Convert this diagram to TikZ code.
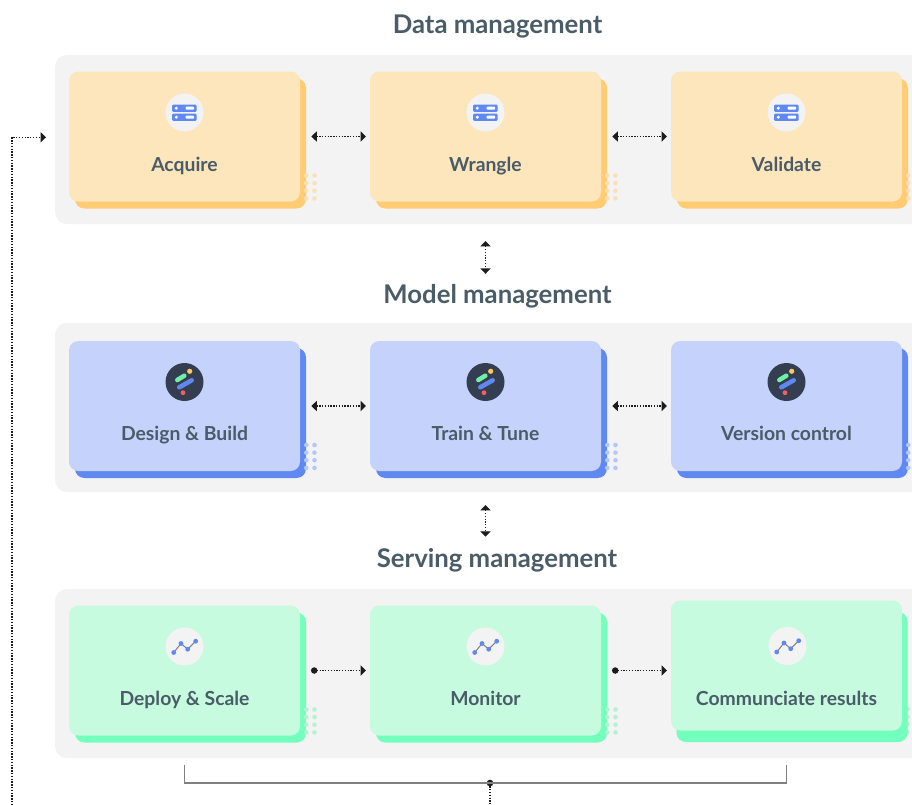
\documentclass[tikz,border=0pt]{standalone}
\usepackage{fontspec}
\setmainfont{Lato}
\usetikzlibrary{arrows.meta}
\definecolor{panelc}{HTML}{F3F3F3}
\definecolor{inkc}{HTML}{4A5C68}
\definecolor{darkc}{HTML}{1C1C1C}
\definecolor{bluec}{HTML}{5F88F1}
\definecolor{icondark}{HTML}{353D50}
\definecolor{icongreen}{HTML}{6FEFA8}
\definecolor{iconyellow}{HTML}{FFC65C}
\definecolor{iconred}{HTML}{F4605F}
\definecolor{yfront}{HTML}{FDE5BC}\definecolor{yback}{HTML}{FFCC73}\definecolor{ydot}{HTML}{FBE0B6}
\definecolor{bfront}{HTML}{C5D3FC}\definecolor{bback}{HTML}{5F88F1}\definecolor{bdot}{HTML}{B4C8F8}
\definecolor{gfront}{HTML}{C6FBDF}\definecolor{gback}{HTML}{73FFBC}\definecolor{gdot}{HTML}{B4F2D3}
\tikzset{
  x=0.75pt,y=-0.75pt,
  panelbox/.style={fill=panelc,rounded corners=9pt,minimum width=678.75pt,minimum height=126.75pt,inner sep=0pt,outer sep=0pt},
  cardbox/.style={rounded corners=7pt,minimum width=173.25pt,minimum height=97.5pt,inner sep=0pt,outer sep=0pt},
  cardlabel/.style={font=\fontsize{14.5pt}{16pt}\selectfont\bfseries,text=inkc,inner sep=0pt,anchor=base},
  titlelabel/.style={font=\fontsize{19.3pt}{22pt}\selectfont\bfseries,text=inkc,inner sep=0pt,anchor=base,text height=16pt,text depth=4pt},
  dotted link/.style={draw=darkc,line width=1.05pt,dash pattern=on 1pt off 1.1pt},
  twoway/.style={dotted link,{Triangle[length=4.1pt,width=7.6pt,fill=darkc]}-{Triangle[length=4.1pt,width=7.6pt,fill=darkc]}},
  oneway/.style={dotted link,-{Triangle[length=4.1pt,width=7.6pt,fill=darkc]}},
  dotway/.style={dotted link,{Circle[length=4.8pt,fill=darkc]}-{Triangle[length=4.1pt,width=7.6pt,fill=darkc]}},
  bracketline/.style={draw=gray,line width=0.8pt},
  hubdot/.style={circle,fill=darkc,minimum size=5pt,inner sep=0pt,outer sep=0pt},
  pics/servers/.style={code={
    \fill[panelc] (0,0) circle[radius=19];
    \foreach \yy in {-8,1}{
      \fill[bluec,rounded corners=1pt] (-12.5,\yy) rectangle (12.2,\yy+7.4);
      \fill[white] (-8.2,\yy+3.7) circle[radius=1.7];
      \fill[white,rounded corners=.6pt] (1.2,\yy+2.2) rectangle (9.5,\yy+5.2);
    }
  }},
  pics/streaks/.style={code={
    \fill[icondark] (0,0) circle[radius=19];
    \draw[line width=3.4pt,line cap=round,draw=icongreen] (-7.2,-2) -- (-.2,-6.3);
    \draw[line width=3.4pt,line cap=round,draw=bluec] (-5.2,5.3) -- (7.2,-1.7);
    \fill[iconyellow] (5.2,-10.7) circle[radius=2.6];
    \fill[iconred] (-1.5,10.7) circle[radius=2.4];
  }},
  pics/trend/.style={code={
    \fill[panelc] (0,0) circle[radius=19];
    \draw[line width=.75pt,draw=gray] (-10.8,6) -- (-3.5,-3) -- (3.2,2.7) -- (11.2,-5.3);
    \foreach \px/\py in {-10.8/6,-3.5/-3,3.2/2.7,11.2/-5.3}
      \fill[bluec] (\px,\py) circle[radius=2.4];
  }},
}
\newcommand{\dotsgrid}[3]{%
  \foreach \cx in {0,8.2}\foreach \ry in {0,7.6,15.2,22.9}
    \fill[#3] (#1+\cx,#2+\ry) circle[radius=2.3];}
% name, centre x, centre y, front, back, dot colour, icon, label
\newcommand{\cardunit}[8]{%
  \node[cardbox,fill=#5] (#1back) at (#2+6,#3+7) {};
  \dotsgrid{#2+121.8}{#3+39}{#6}
  \node[cardbox,fill=#4] (#1) at (#2,#3) {};
  \pic at (#2,#3-24) {#7};
  \node[cardlabel] (#1text) at (#2,#3+34.5) {#8};}
\begin{document}
\begin{tikzpicture}
\clip (0,0) rectangle (912,804);
\fill[white] (0,0) rectangle (912,804);
\node[panelbox] (panelA) at (507.5,139.5) {};
\node[panelbox] (panelB) at (507.5,407.5) {};
\node[panelbox] (panelC) at (507.5,673.5) {};
\node[titlelabel] (titleA) at (497.5,33) {Data management};
\node[titlelabel] (titleB) at (497.5,303) {Model management};
\node[titlelabel] (titleC) at (497,567) {Serving management};
\cardunit{acquire}{184.5}{136.5}{yfront}{yback}{ydot}{servers}{Acquire}
\cardunit{wrangle}{485.5}{136.5}{yfront}{yback}{ydot}{servers}{Wrangle}
\cardunit{validate}{786.5}{136.5}{yfront}{yback}{ydot}{servers}{Validate}
\cardunit{design}{184.5}{406}{bfront}{bback}{bdot}{streaks}{Design \& Build}
\cardunit{train}{485.5}{406}{bfront}{bback}{bdot}{streaks}{Train \& Tune}
\cardunit{version}{786.5}{406}{bfront}{bback}{bdot}{streaks}{Version control}
\cardunit{deploy}{184.5}{670.5}{gfront}{gback}{gdot}{trend}{Deploy \& Scale}
\cardunit{monitor}{485.5}{670.5}{gfront}{gback}{gdot}{trend}{Monitor}
\dotsgrid{907.5}{709}{gdot}
\node[cardbox,fill=gback] (commback) at (792,677) {};
\node[cardbox,fill=gfront] (comm) at (786.5,665.5) {};
\pic at (787.5,646) {trend};
\node[cardlabel] (commtext) at (786.5,705) {Communciate results};
% horizontal connectors
\draw[twoway,shorten <=8.5pt,shorten >=3pt] (acquire.east) -- (wrangle.west);
\draw[twoway,shorten <=8.5pt,shorten >=3pt] (wrangle.east) -- (validate.west);
\draw[twoway,shorten <=8.5pt,shorten >=3pt] (design.east) -- (train.west);
\draw[twoway,shorten <=8.5pt,shorten >=3pt] (train.east) -- (version.west);
\draw[dotway,shorten <=8.25pt,shorten >=3pt] (deploy.east) -- (monitor.west);
\draw[dotway,shorten <=8.25pt,shorten >=3pt] (monitor.east) -- (monitor.east -| comm.west);
% vertical connectors
\draw[twoway,shorten <=12.75pt,shorten >=5.7pt] (wrangle.center |- panelA.south) -- (wrangle.center |- titleB.north);
\draw[twoway,shorten <=9.75pt,shorten >=6.5pt] (train.center |- panelB.south) -- (train.center |- titleC.north);
% bracket and feedback loop
\coordinate (tickL) at (184.5,765);
\coordinate (tickR) at (786.5,765);
\node[hubdot] (hub) at (490,783) {};
\coordinate (hubout) at (490,808);
\coordinate (loopin) at (12,808);
\coordinate (loopend) at (46,137.3);
\draw[bracketline] (tickL) |- (hub.center) -| (tickR);
\draw[dotted link] (hub) -- (hubout);
\draw[oneway] (loopin) |- (loopend);
\end{tikzpicture}
\end{document}
